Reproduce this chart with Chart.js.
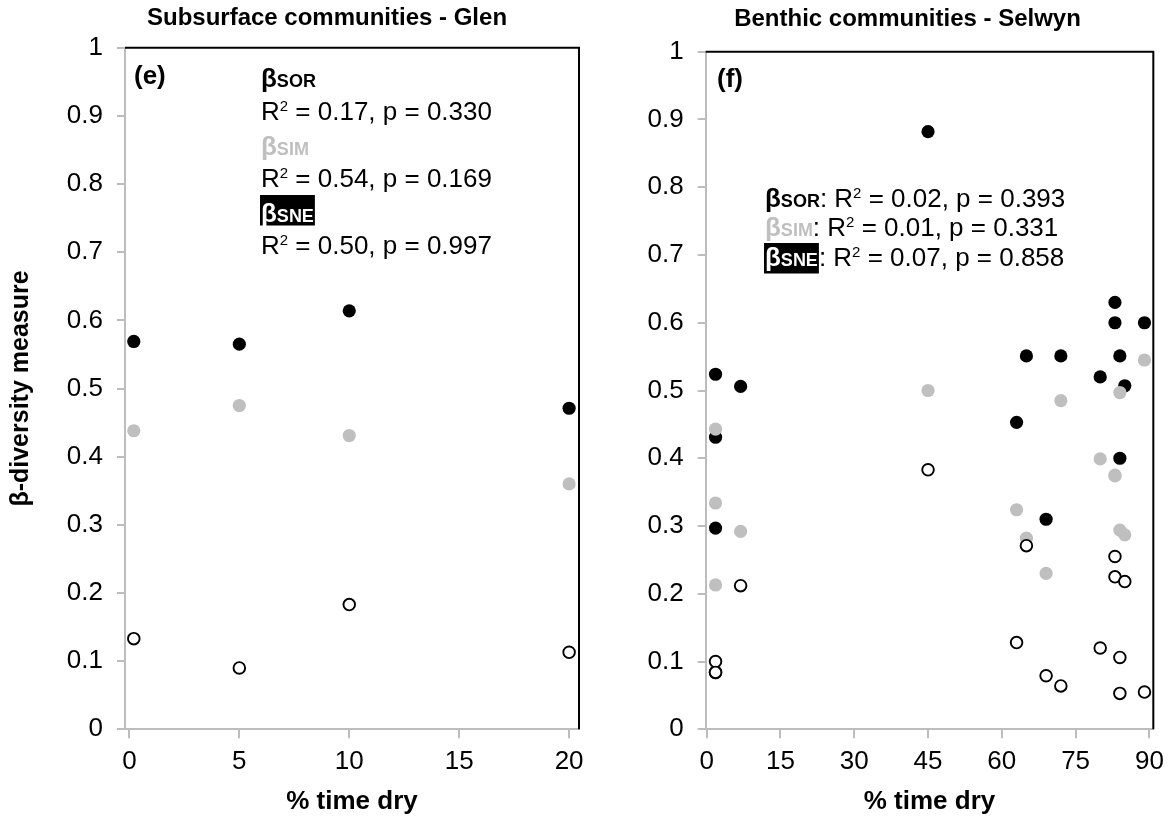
<!DOCTYPE html>
<html>
<head>
<meta charset="utf-8">
<script src="https://cdn.jsdelivr.net/npm/chart.js@4.4.1/dist/chart.umd.min.js"></script>
<style>
  body { margin: 0; background: #fff; }
  #wrap { position: relative; width: 1172px; height: 818px; }
  canvas { position: absolute; top: 0; }
  #glen { left: 0; }
  #selwyn { left: 600px; }
</style>
</head>
<body>
<div id="wrap">
  <canvas id="glen" width="600" height="818"></canvas>
  <canvas id="selwyn" width="572" height="818"></canvas>
</div>
<script>
// ticks de los ejes
const yTicks = [0, 0.1, 0.2, 0.3, 0.4, 0.5, 0.6, 0.7, 0.8, 0.9, 1];
const glenTicks = [0, 5, 10, 15, 20];
const selwynTicks = [0, 15, 30, 45, 60, 75, 90];

// Glen (subsuperficial): % tiempo seco y diversidad beta
const glenDry = [0.2, 5, 10, 20];
const glenSor = [0.569, 0.565, 0.614, 0.471];
const glenSim = [0.438, 0.475, 0.431, 0.360];
const glenSne = [0.133, 0.090, 0.183, 0.113];

// Selwyn (bentonico)
const selwynDry = [1.8, 1.8, 1.8, 6.9, 45, 63, 65, 69, 72, 80, 83, 83, 84, 84, 85, 89];
const selwynSor = [0.524, 0.431, 0.297, 0.506, 0.882, 0.453, 0.551, 0.310, 0.551, 0.520, 0.630, 0.600, 0.551, 0.400, 0.507, 0.600];
const selwynSim = [0.443, 0.334, 0.213, 0.292, 0.500, 0.324, 0.282, 0.230, 0.485, 0.399, 0.374, 0.375, 0.497, 0.294, 0.287, 0.545];
const selwynSne = [0.084, 0.100, 0.084, 0.212, 0.383, 0.128, 0.271, 0.079, 0.064, 0.120, 0.255, 0.225, 0.053, 0.106, 0.218, 0.055];

const GRIS = "#bfbfbf";
const GRIS_EJE = "#bdbdbd";
const FUENTE = "'Liberation Sans', Arial, sans-serif";
Chart.defaults.font.family = FUENTE;
Chart.defaults.color = "#000";

const normal = "26px " + FUENTE;
const negrita = "bold 26px " + FUENTE;
const subind = "bold 18px " + FUENTE;
const superind = "15px " + FUENTE;

function puntos(xs, ys) {
  return xs.map((x, i) => ({ x: x, y: ys[i] }));
}

// SNE (circulo abierto) arriba, luego SIM gris, SOR negro al fondo
function series(dry, sor, sim, sne) {
  return [
    { label: "βSNE", data: puntos(dry, sne), order: 1, pointRadius: 5.8, pointBorderWidth: 1.9,
      pointBackgroundColor: "#fff", pointBorderColor: "#000", backgroundColor: "#fff", borderColor: "#000" },
    { label: "βSIM", data: puntos(dry, sim), order: 2, pointRadius: 6.6, pointBorderWidth: 0,
      pointBackgroundColor: GRIS, pointBorderColor: GRIS, backgroundColor: GRIS, borderColor: GRIS },
    { label: "βSOR", data: puntos(dry, sor), order: 3, pointRadius: 6.6, pointBorderWidth: 0,
      pointBackgroundColor: "#000", pointBorderColor: "#000", backgroundColor: "#000", borderColor: "#000" }
  ];
}

function ejes(xTicks, xMax, anchoY, tituloY) {
  return {
    x: {
      type: "linear", min: -0.2, max: xMax,
      afterBuildTicks: s => { s.ticks = xTicks.map(v => ({ value: v })); },
      afterFit: s => { s.height = 88.7; },
      ticks: { font: { size: 26 }, padding: 8, color: "#000", callback: v => String(v) },
      grid: { drawOnChartArea: false, drawTicks: true, tickLength: 9, color: GRIS_EJE, lineWidth: 2 },
      border: { color: GRIS_EJE, width: 2 },
      title: { display: true, text: "% time dry", color: "#000",
        font: { size: 26, weight: "bold" }, padding: { top: 0, bottom: 1 } }
    },
    y: {
      type: "linear", min: 0, max: 1,
      afterBuildTicks: s => { s.ticks = yTicks.map(v => ({ value: v })); },
      afterFit: s => { s.width = anchoY; },
      ticks: { font: { size: 26 }, padding: 14, color: "#000", callback: v => String(v) },
      grid: { drawOnChartArea: false, drawTicks: true, tickLength: 8, color: GRIS_EJE, lineWidth: 2 },
      border: { color: GRIS_EJE, width: 2 },
      title: { display: tituloY, text: "β-diversity measure", color: "#000",
        font: { size: 25, weight: "bold" }, padding: { top: 5.7, bottom: 0 } }
    }
  };
}

// escribe trozos de texto seguidos; si hay caja, fondo negro y letra blanca
function linea(ctx, x, y, partes, caja) {
  if (caja) {
    let w = 0;
    partes.forEach(p => { ctx.font = p[1]; w += ctx.measureText(p[0]).width; });
    ctx.fillStyle = "#000";
    ctx.fillRect(x - 1, y - caja[0], w + 2, caja[0] + caja[1]);
  }
  for (const [t, f, c, dy] of partes) {
    ctx.font = f;
    ctx.fillStyle = caja ? "#fff" : (c || "#000");
    ctx.fillText(t, x, y + (dy || 0));
    x += ctx.measureText(t).width;
  }
  return x;
}

function beta(nombre, color) {
  return [["β", negrita, color], [nombre, subind, color]];
}

function r2(prefijo, r, p) {
  return [[prefijo + "R", normal], ["2", superind, null, -9], [" = " + r + ", p = " + p, normal]];
}

function marcoYTextos(titulo, xTitulo, yTitulo, notas) {
  return {
    id: "marcoYTextos",
    afterDraw(chart) {
      const { ctx, chartArea: a } = chart;
      ctx.save();
      // borde negro arriba y a la derecha
      ctx.strokeStyle = "#000";
      ctx.lineWidth = 2;
      ctx.beginPath();
      ctx.moveTo(a.left, a.top);
      ctx.lineTo(a.right, a.top);
      ctx.lineTo(a.right, a.bottom);
      ctx.stroke();

      ctx.textBaseline = "alphabetic";
      ctx.textAlign = "center";
      ctx.fillStyle = "#000";
      ctx.font = "bold 24px " + FUENTE;
      ctx.fillText(titulo, xTitulo, yTitulo);

      ctx.textAlign = "left";
      notas(ctx);
      ctx.restore();
    }
  };
}

function grafico(id, dry, sor, sim, sne, xTicks, xMax, anchoY, tituloY, pad, plugin) {
  return new Chart(document.getElementById(id), {
    type: "scatter",
    data: { datasets: series(dry, sor, sim, sne) },
    options: {
      responsive: false,
      animation: false,
      layout: { padding: pad },
      plugins: { legend: { display: false }, tooltip: { enabled: false } },
      scales: ejes(xTicks, xMax, anchoY, tituloY)
    },
    plugins: [plugin]
  });
}

grafico("glen", glenDry, glenSor, glenSim, glenSne, glenTicks, 20.45, 125, true,
  { left: 0, right: 21, top: 47.7, bottom: 0 },
  marcoYTextos("Subsurface communities - Glen", 327, 25, ctx => {
    linea(ctx, 134, 84, [["(e)", negrita]]);
    linea(ctx, 261, 87, beta("SOR", "#000"));
    linea(ctx, 261, 120, r2("", "0.17", "0.330"));
    linea(ctx, 261, 155, beta("SIM", GRIS));
    linea(ctx, 261, 187, r2("", "0.54", "0.169"));
    linea(ctx, 261, 222, beta("SNE"), [27, 3.5]);
    linea(ctx, 261, 254, r2("", "0.50", "0.997"));
  }));

grafico("selwyn", selwynDry, selwynSor, selwynSim, selwynSne, selwynTicks, 90.8, 105.7, false,
  { left: 0, right: 17.7, top: 51.7, bottom: 0 },
  marcoYTextos("Benthic communities - Selwyn", 307.5, 26, ctx => {
    linea(ctx, 117, 87, [["(f)", negrita]]);
    let x = linea(ctx, 165, 207, beta("SOR", "#000"));
    linea(ctx, x, 207, r2(": ", "0.02", "0.393"));
    x = linea(ctx, 165, 236, beta("SIM", GRIS));
    linea(ctx, x, 236, r2(": ", "0.01", "0.331"));
    x = linea(ctx, 165, 266, beta("SNE"), [23, 7.5]);
    linea(ctx, x + 1, 266, r2(": ", "0.07", "0.858"));
  }));
</script>
</body>
</html>
